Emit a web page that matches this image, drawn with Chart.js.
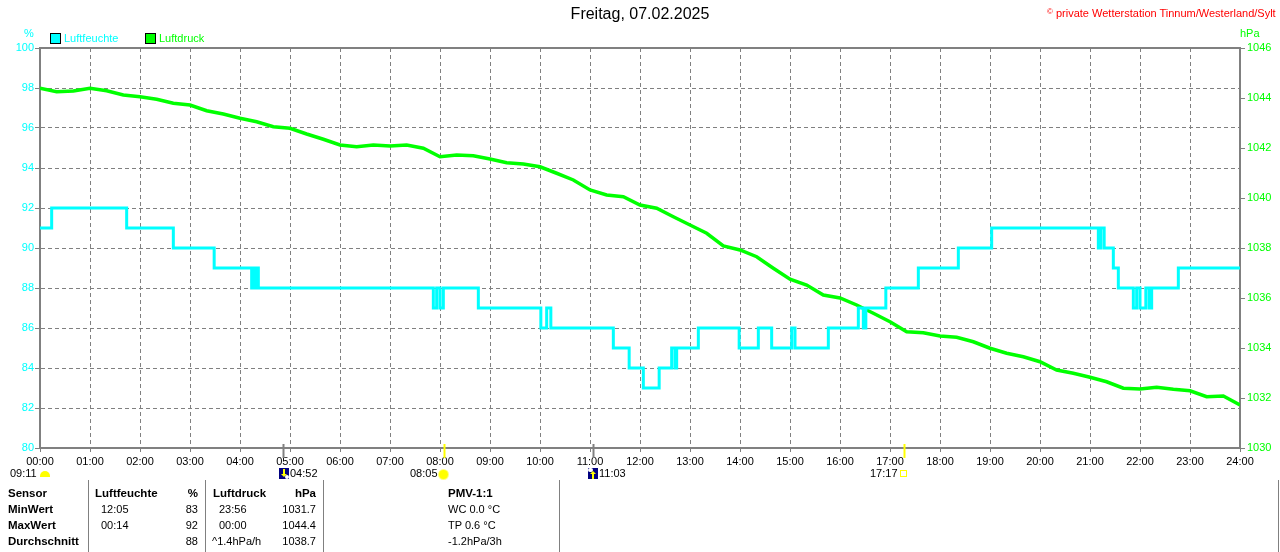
<!DOCTYPE html>
<html>
<head>
<meta charset="utf-8">
<title>Freitag, 07.02.2025</title>
<script src="https://cdn.jsdelivr.net/npm/chart.js@4.4.1/dist/chart.umd.min.js"></script>
<style>
body { margin: 0; background: #fff; }
#wrap { position: relative; width: 1280px; height: 552px; overflow: hidden;
        font-family: "Liberation Sans", Arial, sans-serif; font-size: 11px; color: #000; }
#wrap canvas { position: absolute; left: 0; top: 0; }
.t { position: absolute; white-space: nowrap; line-height: 14px; }
.r { text-align: right; }
.b { font-weight: bold; font-size: 11.5px; }
.box { position: absolute; width: 9px; height: 9px; border: 1px solid #000; }
.vl { position: absolute; top: 480px; height: 72px; width: 1px; background: #808080; }
</style>
</head>
<body>
<div id="wrap">
  <canvas id="chart" width="1280" height="552"></canvas>

  <div class="t" style="left:1047px;top:5px;color:#ff0000;"><span style="font-size:8px;vertical-align:3px;">©</span> private Wetterstation Tinnum/Westerland/Sylt</div>
  <div class="t" style="left:24px;top:26px;color:#00ffff;">%</div>
  <div class="t" style="left:1240px;top:26px;color:#00ff00;">hPa</div>

  <div class="box" style="left:50px;top:33px;background:#00ffff;"></div>
  <div class="t" style="left:64px;top:31px;color:#00ffff;">Luftfeuchte</div>
  <div class="box" style="left:145px;top:33px;background:#00ff00;"></div>
  <div class="t" style="left:159px;top:31px;color:#00ff00;">Luftdruck</div>

  <!-- Mond / Sonne -->
  <div class="t" style="left:10px;top:466px;">09:11</div>
  <div style="position:absolute;left:40px;top:471px;width:10px;height:6px;background:#ffff00;border-radius:5px 5px 0 0;"></div>
  <div style="position:absolute;left:279px;top:468px;width:10px;height:11px;background:#000080;">
    <div style="position:absolute;left:4px;top:1px;width:2px;height:6px;background:#ffff00;"></div>
    <div style="position:absolute;left:2px;top:6px;width:0;height:0;border-left:3px solid transparent;border-right:3px solid transparent;border-top:3px solid #ffff00;"></div>
    <div style="position:absolute;left:6px;top:7px;width:4px;height:4px;background:#fff;border-radius:2px;"></div>
  </div>
  <div class="t" style="left:290px;top:466px;">04:52</div>
  <div class="t" style="left:410px;top:466px;">08:05</div>
  <div style="position:absolute;left:439px;top:470px;width:9px;height:9px;background:#ffff00;border-radius:50%;box-shadow:0 0 0 1px #ffff80;"></div>
  <div style="position:absolute;left:588px;top:468px;width:10px;height:11px;background:#000080;">
    <div style="position:absolute;left:0px;top:0px;width:5px;height:4px;background:#fff;border-radius:2px;"></div>
    <div style="position:absolute;left:2px;top:3px;width:0;height:0;border-left:3px solid transparent;border-right:3px solid transparent;border-bottom:3px solid #ffff00;"></div>
    <div style="position:absolute;left:4px;top:6px;width:2px;height:5px;background:#ffff00;"></div>
  </div>
  <div class="t" style="left:599px;top:466px;">11:03</div>
  <div class="t" style="left:870px;top:466px;">17:17</div>
  <div style="position:absolute;left:900px;top:470px;width:5px;height:5px;border:1px solid #ffff00;"></div>

  <!-- Tabelle -->
  <div class="vl" style="left:88px;"></div>
  <div class="vl" style="left:205px;"></div>
  <div class="vl" style="left:323px;"></div>
  <div class="vl" style="left:559px;"></div>
  <div class="vl" style="left:1278px;"></div>

  <div class="t b" style="left:8px;top:486px;">Sensor</div>
  <div class="t b" style="left:95px;top:486px;">Luftfeuchte</div>
  <div class="t b r" style="right:1082px;top:486px;">%</div>
  <div class="t b" style="left:213px;top:486px;">Luftdruck</div>
  <div class="t b r" style="right:964px;top:486px;">hPa</div>
  <div class="t b" style="left:448px;top:486px;">PMV-1:1</div>

  <div class="t b" style="left:8px;top:502px;">MinWert</div>
  <div class="t" style="left:101px;top:502px;">12:05</div>
  <div class="t r" style="right:1082px;top:502px;">83</div>
  <div class="t" style="left:219px;top:502px;">23:56</div>
  <div class="t r" style="right:964px;top:502px;">1031.7</div>
  <div class="t" style="left:448px;top:502px;">WC 0.0 °C</div>

  <div class="t b" style="left:8px;top:518px;">MaxWert</div>
  <div class="t" style="left:101px;top:518px;">00:14</div>
  <div class="t r" style="right:1082px;top:518px;">92</div>
  <div class="t" style="left:219px;top:518px;">00:00</div>
  <div class="t r" style="right:964px;top:518px;">1044.4</div>
  <div class="t" style="left:448px;top:518px;">TP 0.6 °C</div>

  <div class="t b" style="left:8px;top:534px;">Durchschnitt</div>
  <div class="t r" style="right:1082px;top:534px;">88</div>
  <div class="t" style="left:212px;top:534px;">^1.4hPa/h</div>
  <div class="t r" style="right:964px;top:534px;">1038.7</div>
  <div class="t" style="left:448px;top:534px;">-1.2hPa/3h</div>
</div>

<script>
// Zeitachse in Minuten seit 00:00
var hourLabels = ['00:00','01:00','02:00','03:00','04:00','05:00','06:00','07:00','08:00',
                  '09:00','10:00','11:00','12:00','13:00','14:00','15:00','16:00','17:00',
                  '18:00','19:00','20:00','21:00','22:00','23:00','24:00'];

// Luftfeuchte (%) - Stufen: Minute, ab der der Wert gilt
var humTimes  = [0, 14, 104, 160, 209, 254, 257, 259, 260, 262, 472, 476, 480, 484, 526, 601, 608, 613,
                 688, 707, 724, 743, 758, 762, 764, 790, 839, 862, 878, 902, 906, 946, 982, 988, 991,
                 1015, 1054, 1102, 1142, 1270, 1273, 1277, 1288, 1294, 1312, 1316, 1320, 1327, 1331,
                 1334, 1366, 1440];
var humValues = [91, 92, 91, 90, 89, 88, 89, 88, 89, 88, 87, 88, 87, 88, 87, 86, 87, 86,
                 85, 84, 83, 84, 85, 84, 85, 86, 85, 86, 85, 86, 85, 86, 87, 86, 87,
                 88, 89, 90, 91, 90, 91, 90, 89, 88, 87, 88, 87, 88, 87,
                 88, 89, 89];

// Luftdruck (hPa) alle 20 Minuten
var presTimes  = [0, 20, 40, 60, 80, 100, 120, 140, 160, 180, 200, 220, 240, 260, 280, 300, 320, 340,
                  360, 380, 400, 420, 440, 460, 480, 500, 520, 540, 560, 580, 600, 620, 640, 660, 680,
                  700, 720, 740, 760, 780, 800, 820, 840, 860, 880, 900, 920, 940, 960, 980, 1000, 1020,
                  1040, 1060, 1080, 1100, 1120, 1140, 1160, 1180, 1200, 1220, 1240, 1260, 1280, 1300,
                  1320, 1340, 1360, 1380, 1400, 1420, 1440];
var presValues = [1044.39, 1044.25, 1044.28, 1044.39, 1044.29, 1044.12, 1044.05, 1043.95, 1043.79,
                  1043.72, 1043.49, 1043.36, 1043.19, 1043.05, 1042.85, 1042.79, 1042.56, 1042.35,
                  1042.12, 1042.05, 1042.12, 1042.08, 1042.12, 1041.99, 1041.65, 1041.72, 1041.69,
                  1041.56, 1041.41, 1041.36, 1041.25, 1040.99, 1040.72, 1040.32, 1040.12, 1040.05,
                  1039.72, 1039.59, 1039.25, 1038.92, 1038.59, 1038.08, 1037.92, 1037.65, 1037.19,
                  1036.75, 1036.52, 1036.12, 1036.00, 1035.72, 1035.39, 1035.05, 1034.65, 1034.61,
                  1034.48, 1034.43, 1034.25, 1033.99, 1033.79, 1033.65, 1033.45, 1033.12, 1032.99,
                  1032.83, 1032.65, 1032.39, 1032.36, 1032.43, 1032.35, 1032.29, 1032.05, 1032.08,
                  1031.72];

// Mond-/Sonnenereignisse (Minuten): Monduntergang 04:52, Sonnenaufgang 08:05, Mondaufgang 11:03, Sonnenuntergang 17:17
var eventTimes = [292, 485, 663, 1037];
var eventKinds = ['moon', 'sun', 'moon', 'sun'];

var grau = '#808080';

function toPoints(xs, ys) {
    return xs.map(function(t, i) { return { x: t, y: ys[i] }; });
}

var markers = {
    id: 'markers',
    afterDraw: function(chart) {
        var ctx = chart.ctx, a = chart.chartArea, xs = chart.scales.x;
        ctx.save();
        // obere Rahmenlinie
        ctx.strokeStyle = grau;
        ctx.lineWidth = 2;
        ctx.beginPath();
        ctx.moveTo(a.left, a.top);
        ctx.lineTo(a.right + 1, a.top);
        ctx.stroke();
        // Striche für Sonne und Mond
        eventTimes.forEach(function(t, i) {
            var px = Math.round(xs.getPixelForValue(t)) + 0.5;
            ctx.strokeStyle = eventKinds[i] === 'sun' ? '#ffff00' : grau;
            ctx.lineWidth = 2;
            ctx.beginPath();
            ctx.moveTo(px, a.bottom - 4);
            ctx.lineTo(px, a.bottom + 10);
            ctx.stroke();
        });
        ctx.restore();
    }
};

Chart.defaults.font.family = '"Liberation Sans", Arial, sans-serif';
Chart.defaults.font.size = 11;

new Chart(document.getElementById('chart'), {
    type: 'line',
    data: {
        datasets: [
            {
                label: 'Luftfeuchte',
                data: toPoints(humTimes, humValues),
                yAxisID: 'y',
                stepped: true,
                borderColor: '#00ffff',
                borderWidth: 3,
                pointRadius: 0,
                fill: false
            },
            {
                label: 'Luftdruck',
                data: toPoints(presTimes, presValues),
                yAxisID: 'y1',
                borderColor: '#00ff00',
                borderWidth: 3.5,
                pointRadius: 0,
                tension: 0,
                fill: false
            }
        ]
    },
    options: {
        responsive: false,
        animation: false,
        devicePixelRatio: 1,
        layout: { padding: { top: 0, left: 0, right: 0, bottom: 0 } },
        plugins: {
            legend: { display: false },
            tooltip: { enabled: false },
            title: {
                display: true,
                text: 'Freitag, 07.02.2025',
                color: '#000',
                font: { size: 16, weight: 'normal' },
                padding: { top: 5, bottom: 23.8 }
            }
        },
        scales: {
            x: {
                type: 'linear',
                min: 0,
                max: 1440,
                afterFit: function(s) { s.height = 104; },
                afterBuildTicks: function(s) {
                    s.ticks = hourLabels.map(function(l, i) { return { value: i * 60 }; });
                },
                ticks: {
                    color: '#000',
                    padding: 3,
                    maxRotation: 0,
                    autoSkip: false,
                    callback: function(v) { return hourLabels[Math.round(v / 60)]; }
                },
                grid: { color: grau, lineWidth: 1, tickLength: 4, tickColor: grau },
                border: { color: grau, width: 2, dash: [4, 3] }
            },
            y: {
                position: 'left',
                min: 80,
                max: 100,
                afterFit: function(s) { s.width = 40; },
                ticks: { stepSize: 2, color: '#00ffff', padding: 1,
                         callback: function(v) { return String(v); } },
                grid: { color: grau, lineWidth: 1, tickLength: 5, tickColor: grau },
                border: { color: grau, width: 2, dash: [4, 3] }
            },
            y1: {
                position: 'right',
                min: 1030,
                max: 1046,
                afterFit: function(s) { s.width = 40; },
                ticks: { stepSize: 2, color: '#00ff00', padding: 2,
                         callback: function(v) { return String(v); } },
                grid: { drawOnChartArea: false, tickLength: 5, color: grau },
                border: { color: grau, width: 2 }
            }
        }
    },
    plugins: [markers]
});
</script>
</body>
</html>
